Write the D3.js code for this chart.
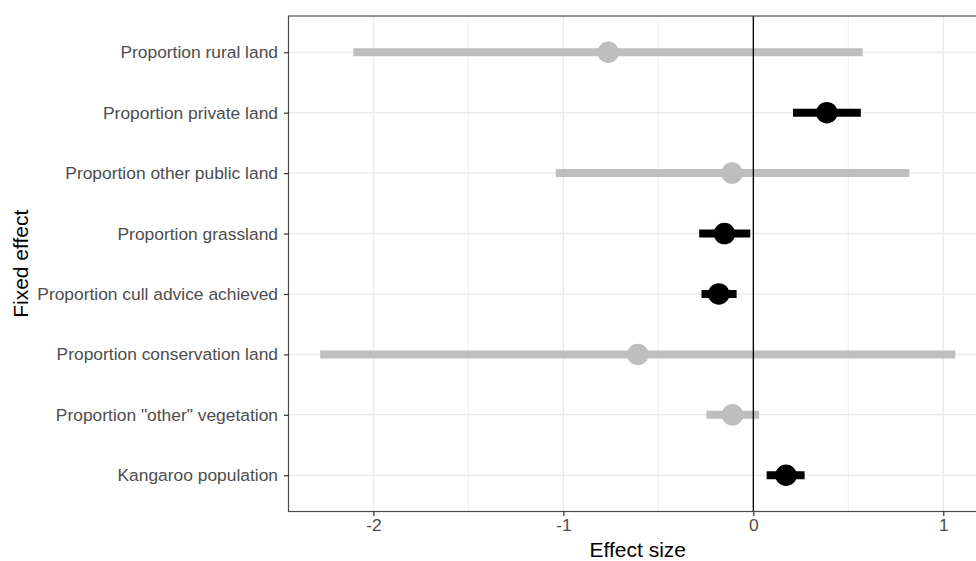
<!DOCTYPE html>
<html>
<head>
<meta charset="utf-8">
<script src="https://cdn.jsdelivr.net/npm/d3@7"></script>
<style>
  html, body { margin: 0; padding: 0; background: #fff; overflow: hidden; }
  svg { display: block; }
  text { font-family: "Liberation Sans", Arial, sans-serif; }
</style>
</head>
<body>
<svg id="chart" width="976" height="561"></svg>
<script>
// ---- Data (top to bottom) ----
const categories = [
  "Proportion rural land",
  "Proportion private land",
  "Proportion other public land",
  "Proportion grassland",
  "Proportion cull advice achieved",
  "Proportion conservation land",
  "Proportion \"other\" vegetation",
  "Kangaroo population"
];
const estimates = [-0.764, 0.387, -0.112, -0.152, -0.182, -0.608, -0.110, 0.172];
const lowerCI   = [-2.106, 0.209, -1.040, -0.285, -0.273, -2.280, -0.247, 0.070];
const upperCI   = [ 0.576, 0.566,  0.821, -0.016, -0.088,  1.063,  0.030, 0.270];
const xTicks = [-2, -1, 0, 1];
const xMinor = [-1.5, -0.5, 0.5, 1.5];

const rows = categories.map((c, i) => ({
  name: c, est: estimates[i], lo: lowerCI[i], hi: upperCI[i],
  sig: (lowerCI[i] > 0 || upperCI[i] < 0)
}));

// ---- Layout ----
const svg = d3.select("#chart");
const panel = { left: 288.5, top: 16, right: 987, bottom: 511.5 };

const dMin = d3.min(lowerCI), dMax = d3.max(upperCI);
const pad = (dMax - dMin) * 0.05;
const x = d3.scaleLinear().domain([dMin - pad, dMax + pad]).range([panel.left, panel.right]);
const y = d3.scalePoint().domain(categories).range([panel.top, panel.bottom]).padding(0.6);

const g = svg.append("g");

svg.append("clipPath").attr("id", "pclip").append("rect")
  .attr("x", panel.left).attr("y", panel.top)
  .attr("width", panel.right - panel.left).attr("height", panel.bottom - panel.top);

const pg = g.append("g").attr("clip-path", "url(#pclip)");

// minor grid
pg.selectAll(".minor").data(xMinor).join("line")
  .attr("x1", d => x(d)).attr("x2", d => x(d))
  .attr("y1", panel.top).attr("y2", panel.bottom)
  .attr("stroke", "#ebebeb").attr("stroke-width", 0.8);
// major grid x
pg.selectAll(".majx").data(xTicks).join("line")
  .attr("x1", d => x(d)).attr("x2", d => x(d))
  .attr("y1", panel.top).attr("y2", panel.bottom)
  .attr("stroke", "#ebebeb").attr("stroke-width", 1.5);
// major grid y
pg.selectAll(".majy").data(categories).join("line")
  .attr("x1", panel.left).attr("x2", panel.right)
  .attr("y1", d => y(d)).attr("y2", d => y(d))
  .attr("stroke", "#ebebeb").attr("stroke-width", 1.5);

// error bars
pg.selectAll(".eb").data(rows).join("line")
  .attr("x1", d => x(d.lo)).attr("x2", d => x(d.hi))
  .attr("y1", d => y(d.name)).attr("y2", d => y(d.name))
  .attr("stroke", d => d.sig ? "#000000" : "#bebebe")
  .attr("stroke-width", 8).attr("stroke-linecap", "butt");

// points
pg.selectAll(".pt").data(rows).join("circle")
  .attr("cx", d => x(d.est)).attr("cy", d => y(d.name)).attr("r", 10.75)
  .attr("fill", d => d.sig ? "#000000" : "#bebebe");

// zero line
pg.append("line")
  .attr("x1", x(0)).attr("x2", x(0))
  .attr("y1", panel.top).attr("y2", panel.bottom)
  .attr("stroke", "#000").attr("stroke-width", 1.3);

// panel border
g.append("rect")
  .attr("x", panel.left).attr("y", panel.top)
  .attr("width", panel.right - panel.left).attr("height", panel.bottom - panel.top)
  .attr("fill", "none").attr("stroke", "#4a4a4a").attr("stroke-width", 1.2);

// x axis
const xAxis = g.append("g").attr("transform", `translate(0,${panel.bottom})`)
  .call(d3.axisBottom(x).tickValues(xTicks).tickFormat(d3.format("d")).tickSize(4.5).tickPadding(3));
xAxis.select(".domain").remove();
xAxis.selectAll(".tick line").attr("stroke", "#333333").attr("stroke-width", 1.2);
xAxis.selectAll(".tick text").attr("fill", "#4d4d4d").attr("font-size", "17.4px")
  .text(d => d < 0 ? "-" + Math.abs(d) : String(d));

// y axis
const yAxis = g.append("g").attr("transform", `translate(${panel.left},0)`)
  .call(d3.axisLeft(y).tickSize(4.5).tickPadding(6));
yAxis.select(".domain").remove();
yAxis.selectAll(".tick line").attr("stroke", "#333333").attr("stroke-width", 1.2);
yAxis.selectAll(".tick text").attr("fill", "#4d4d4d").attr("font-size", "17.4px");

// axis titles
g.append("text")
  .attr("x", (panel.left + panel.right) / 2).attr("y", 557)
  .attr("text-anchor", "middle").attr("font-size", "21px").attr("fill", "#000")
  .text("Effect size");
g.append("text")
  .attr("transform", `translate(28,${(panel.top + panel.bottom) / 2}) rotate(-90)`)
  .attr("text-anchor", "middle").attr("font-size", "21px").attr("fill", "#000")
  .text("Fixed effect");
</script>
</body>
</html>
